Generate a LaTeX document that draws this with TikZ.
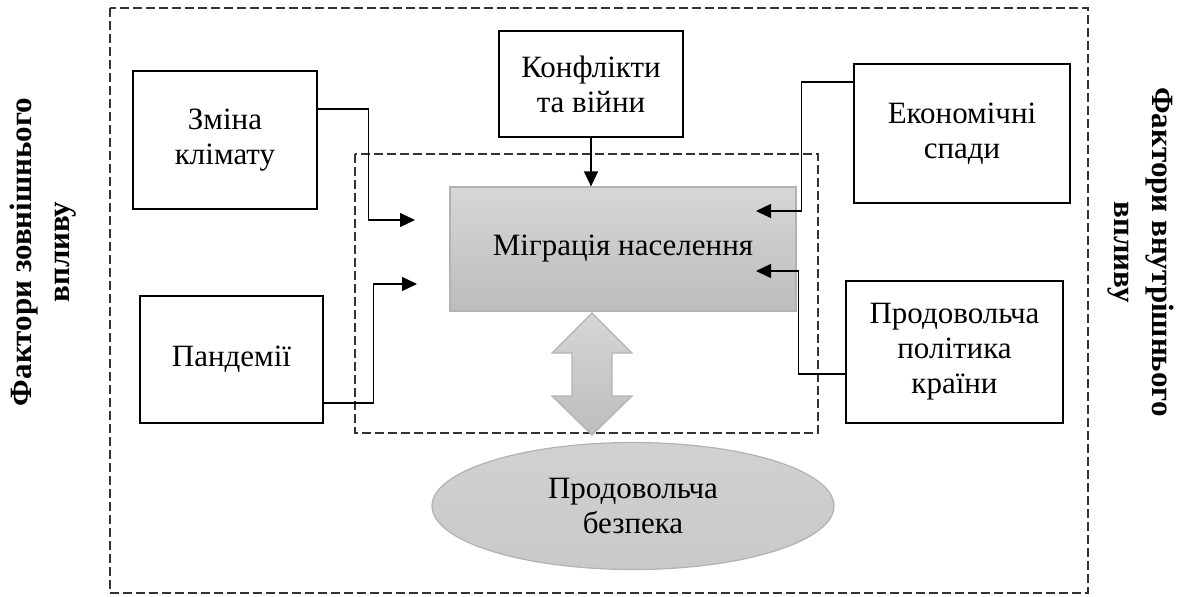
\documentclass[tikz,border=0pt]{standalone}
\usepackage{fontspec}
\setmainfont{Liberation Serif}
\usetikzlibrary{arrows.meta,shapes.geometric}
\definecolor{g0}{RGB}{214,214,214}
\definecolor{g1}{RGB}{189,189,189}
\definecolor{g2}{RGB}{178,178,178}
\definecolor{g3}{RGB}{201,201,201}
\tikzset{%
  factor/.style={draw,line width=1.4pt,align=center,inner sep=0pt,
    font=\fontsize{15.5}{17.5}\selectfont},
  frame/.style={draw=black!80,line width=0.6pt,dash pattern=on 4.5pt off 2pt},
  conn/.style={line width=0.6pt,-{Triangle[length=7.5pt,width=7pt]}},
  side/.style={align=center,font=\fontsize{15.5}{19}\selectfont\bfseries}
}

\begin{document}
\begin{tikzpicture}[x=0.5pt,y=-0.5pt]
  \useasboundingbox (0,0) rectangle (1177,596);
  \draw[frame] (110,8) rectangle (1088,593);
  \draw[frame] (355,154) rectangle (818,433);
  \node[side,rotate=90] (ext) at (43,252) {Фактори зовнішнього\\впливу};
  \node[side,rotate=-90] (int) at (1141,252) {Фактори внутрішнього\\впливу};
  \node[factor,minimum width=92pt,minimum height=69pt] (klimat) at (225,140) {Зміна\\клімату};
  \node[factor,minimum width=91.5pt,minimum height=63.5pt] (pand) at (231.5,359.5) {Пандемії};
  \node[factor,minimum width=92pt,minimum height=53pt] (konf) at (591,84) {Конфлікти\\та війни};
  \node[factor,minimum width=108pt,minimum height=69.5pt] (econ) at (962,133.5) {Економічні\\спади};
  \node[factor,minimum width=108.5pt,minimum height=71pt] (prod) at (954.5,352) {Продовольча\\політика\\країни};
  \node[factor,draw=g2,line width=0.6pt,top color=g0,bottom color=g1,
    minimum width=173pt,minimum height=62pt] (migr) at (623,249) {Міграція населення};
  \node[factor,ellipse,draw=g2,line width=0.6pt,top color=g3!85!white,bottom color=g3,
    minimum width=201pt,minimum height=63.5pt] (food) at (633,506) {Продовольча\\безпека};
  %%%
  \coordinate (inK) at (415,220);
  \coordinate (inP) at (417,284);
  \coordinate (inE) at (756,211);
  \coordinate (inF) at (756,271);
  \draw[conn] (klimat.east |- 0,109) -- ++(50,0) |- (inK);
  \draw[conn] (pand.east |- 0,403) -- ++(49,0) |- (inP);
  \draw[conn] (konf.south) -- (konf.south |- migr.north);
  \draw[conn] (econ.west |- 0,82) -- ++(-51,0) |- (inE);
  \draw[conn] (prod.west |- 0,374) -- ++(-46,0) |- (inF);
  %%%
  \draw[draw=g2,line width=0.6pt,top color=g0,bottom color=g1]
    (592,313) -- (632,353) -- (612,353) -- (612,396) -- (632,396) -- (592,435)
    -- (552,396) -- (572,396) -- (572,353) -- (552,353) -- cycle;
\end{tikzpicture}
\end{document}
